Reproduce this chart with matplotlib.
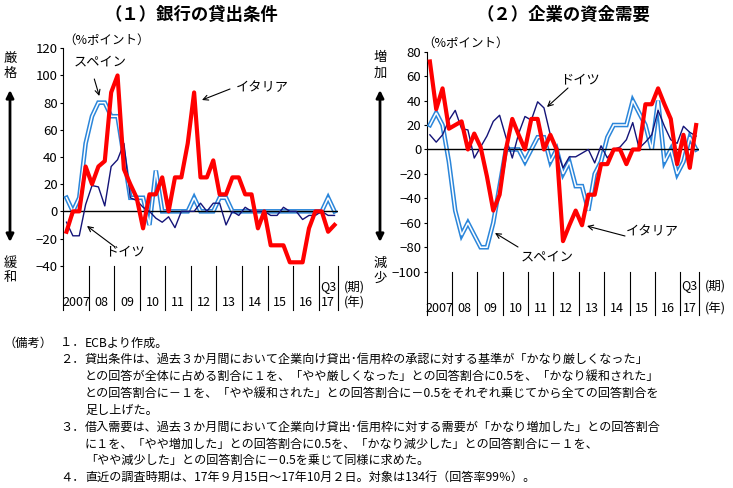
import matplotlib
matplotlib.use('Agg')
import matplotlib.pyplot as plt
from matplotlib import transforms

plt.rcParams['font.family'] = ['Noto Sans CJK JP', 'DejaVu Sans']

W, H = 733, 488

# quarterly data, 2007Q1 - 2017Q3 (43 quarters)
years = ['2007', '08', '09', '10', '11', '12', '13', '14', '15', '16', '17']

# (1) lending standards
italy_lend = [-15, 0, 0, 33, 20, 33, 37, 87.5, 100, 31, 20, 10, -12.5, 12.5, 12.5, 25, 0, 25, 25, 50,
              87.5, 25, 25, 37.5, 12.5, 12.5, 25, 25, 12.5, 12.5, -12.5, 0, -25, -25, -25, -37.5,
              -37.5, -37.5, -12.5, 0, 0, -15, -10]
germany_lend = [-8, -18, -18, 5, 19, 18, 4, 33, 38, 50, 10, 8, 3, 0, -5, -8, -4, -12, 0, 0,
                0, 6, 0, 6, 6, -10, 0, -3, 3, 0, 0, 0, -3, -3, 3, 0, 0, -6, -3, -3, 0, -3, -3]
spain_lend = [10, 0, 10, 50, 70, 80, 80, 70, 70, 40, 10, 10, 10, -10, 30, 0, 0, 0, 0, 0,
              10, 0, 0, 0, 10, 10, 0, 0, 0, 0, 0, 0, 0, 0, 0, 0, 0, 0, 0, 0, 0, 10, 0]

# (2) loan demand
italy_dem = [72, 33, 50, 17, 20, 23, 0, 13, 2, -22, -50, -37, 0, 25, 12, 0, 25, 25, 0, 12,
             0, -75, -62, -50, -62, -37, -37, -12, -12, 0, 0, -12, 0, 0, 37, 37, 50, 37, 25, -12,
             12, -15, 20]
germany_dem = [12, 6, 12, 24, 32, 17, 16, -7, 2, 11, 23, 28, 10, -7, 13, 27, 24, 39, 34, 12,
               0, -15, -6, -6, -3, 0, -11, 3, -7, 0, 2, 8, 22, 1, 6, 12, 32, 19, 8, 5, 19, 14, 11]
spain_dem = [20, 30, 20, -10, -50, -70, -60, -70, -80, -80, -60, -30, 0, 0, 0, -10, 0, 10, 10, -10,
             0, -20, -10, -30, -30, -50, -20, -10, 10, 20, 20, 20, 40, 30, 20, 0, 40, -10, 0, -20,
             -10, 10, 0]

notes = [
    ('（備考）', '１．', 'ECBより作成。'),
    ('', '２．', '貸出条件は、過去３か月間において企業向け貸出･信用枠の承認に対する基準が「かなり厳しくなった」'),
    ('', '', 'との回答が全体に占める割合に１を、「やや厳しくなった」との回答割合に0.5を、「かなり緩和された」'),
    ('', '', 'との回答割合に－１を、「やや緩和された」との回答割合に－0.5をそれぞれ乗じてから全ての回答割合を'),
    ('', '', '足し上げた。'),
    ('', '３．', '借入需要は、過去３か月間において企業向け貸出･信用枠に対する需要が「かなり増加した」との回答割合'),
    ('', '', 'に１を、「やや増加した」との回答割合に0.5を、「かなり減少した」との回答割合に－１を、'),
    ('', '', '「やや減少した」との回答割合に－0.5を乗じて同様に求めた。'),
    ('', '４．', '直近の調査時期は、17年９月15日～17年10月２日。対象は134行（回答率99％）。'),
]

n_q = len(italy_lend)
xs = [i + 0.5 for i in range(n_q)]
bounds = list(range(0, 41, 4)) + [n_q]
centers = [b + 2 for b in range(0, 40, 4)] + [41.5]

RED = '#FF0000'
NAVY = '#141478'
BLUE = '#2B86DA'


def fx(x):
    return x / W


def fy(y):
    return 1 - y / H


fig = plt.figure(figsize=(W / 100, H / 100), dpi=100)


def draw_panel(ax, italy, germany, spain, ylim, yticks, ax_bottom, sep_bottom, year_y, q3_y, unit_x):
    ax.set_xlim(0, n_q)
    ax.set_ylim(*ylim)
    ax.plot(xs, spain, color=BLUE, lw=3.3, zorder=3, solid_joinstyle='miter')
    ax.plot(xs, spain, color='white', lw=1.1, zorder=3.1, solid_joinstyle='miter')
    ax.axhline(0, color='black', lw=1, zorder=3.5)
    ax.plot(xs, germany, color=NAVY, lw=1, zorder=4)
    ax.plot(xs, italy, color=RED, lw=3, zorder=5)
    ax.set_yticks(yticks)
    ax.set_xticks([])
    for s in ['top', 'right', 'bottom']:
        ax.spines[s].set_visible(False)
    ax.spines['left'].set_linewidth(0.8)
    ax.tick_params(axis='y', direction='out', length=2.5, width=0.8, pad=1.5, labelsize=9.5)

    trans = transforms.blended_transform_factory(ax.transData, fig.transFigure)
    for b in bounds:
        ax.plot([b, b], [fy(ax_bottom), fy(sep_bottom)], transform=trans,
                color='black', lw=0.8, clip_on=False)
    for c, lab in zip(centers, years):
        ax.text(c, fy(year_y), lab, transform=trans, ha='center', va='center', fontsize=9)
    ax.text(centers[-1], fy(q3_y), 'Q3', transform=trans, ha='center', va='center', fontsize=9)
    fig.text(fx(unit_x), fy(q3_y), '(期)', ha='center', va='center', fontsize=9)
    fig.text(fx(unit_x), fy(year_y), '(年)', ha='center', va='center', fontsize=9)


def arrow(x1, y1, x2, y2):
    fig.add_artist(matplotlib.patches.FancyArrowPatch(
        (fx(x1), fy(y1)), (fx(x2), fy(y2)), transform=fig.transFigure,
        arrowstyle='->', mutation_scale=9, lw=0.8, color='black', shrinkA=0, shrinkB=0))


def side_label(x, top, bottom):
    fig.text(fx(x), fy(58), top[0], ha='center', va='center', fontsize=9.5)
    fig.text(fx(x), fy(73), top[1], ha='center', va='center', fontsize=9.5)
    fig.text(fx(x), fy(263), bottom[0], ha='center', va='center', fontsize=9.5)
    fig.text(fx(x), fy(278), bottom[1], ha='center', va='center', fontsize=9.5)
    fig.add_artist(matplotlib.patches.FancyArrowPatch(
        (fx(x), fy(90)), (fx(x), fy(242)), transform=fig.transFigure,
        arrowstyle='<|-|>', mutation_scale=11, lw=2, color='black', shrinkA=0, shrinkB=0))


# (1) lending standards
ax1 = fig.add_axes([fx(63.3), fy(265.7), (337.7 - 63.3) / W, (265.7 - 48.3) / H])
draw_panel(ax1, italy_lend, germany_lend, spain_lend, (-40, 120), range(-40, 121, 20),
           265.7, 310, 303, 287, 354)
fig.text(fx(191), fy(15), '（１）銀行の貸出条件', ha='center', va='center', fontsize=12.5, fontweight='bold')
fig.text(fx(107), fy(40), '（%ポイント）', ha='center', va='center', fontsize=9)
side_label(10, '厳格', '緩和')
fig.text(fx(100), fy(62), 'スペイン', ha='center', va='center', fontsize=9.5)
arrow(94.3, 79, 99.3, 96)
fig.text(fx(262), fy(88), 'イタリア', ha='center', va='center', fontsize=9.5)
arrow(230, 89, 202, 100)
fig.text(fx(125), fy(252), 'ドイツ', ha='center', va='center', fontsize=9.5)
arrow(115, 247, 87, 226)

# (2) loan demand
ax2 = fig.add_axes([fx(426.7), fy(271.7), (699.3 - 426.7) / W, (271.7 - 51.7) / H])
draw_panel(ax2, italy_dem, germany_dem, spain_dem, (-100, 80), range(-100, 81, 20),
           271.7, 315, 309, 286, 715)
fig.text(fx(563), fy(15), '（２）企業の資金需要', ha='center', va='center', fontsize=12.5, fontweight='bold')
fig.text(fx(466), fy(43), '（%ポイント）', ha='center', va='center', fontsize=9)
side_label(380, '増加', '減少')
fig.text(fx(580), fy(80), 'ドイツ', ha='center', va='center', fontsize=9.5)
arrow(568, 88, 547, 107)
fig.text(fx(547), fy(257), 'スペイン', ha='center', va='center', fontsize=9.5)
arrow(518, 247, 495, 233)
fig.text(fx(652), fy(232), 'イタリア', ha='center', va='center', fontsize=9.5)
arrow(625, 236, 587, 226)

# notes
line_y = 343
for head, num, body in notes:
    if head:
        fig.text(fx(4), fy(line_y), head, ha='left', va='center', fontsize=8.8)
    if num:
        fig.text(fx(60), fy(line_y), num, ha='left', va='center', fontsize=8.8)
    fig.text(fx(85), fy(line_y), body, ha='left', va='center', fontsize=8.7)
    line_y += 16.8

fig.savefig('out.png', dpi=100)
